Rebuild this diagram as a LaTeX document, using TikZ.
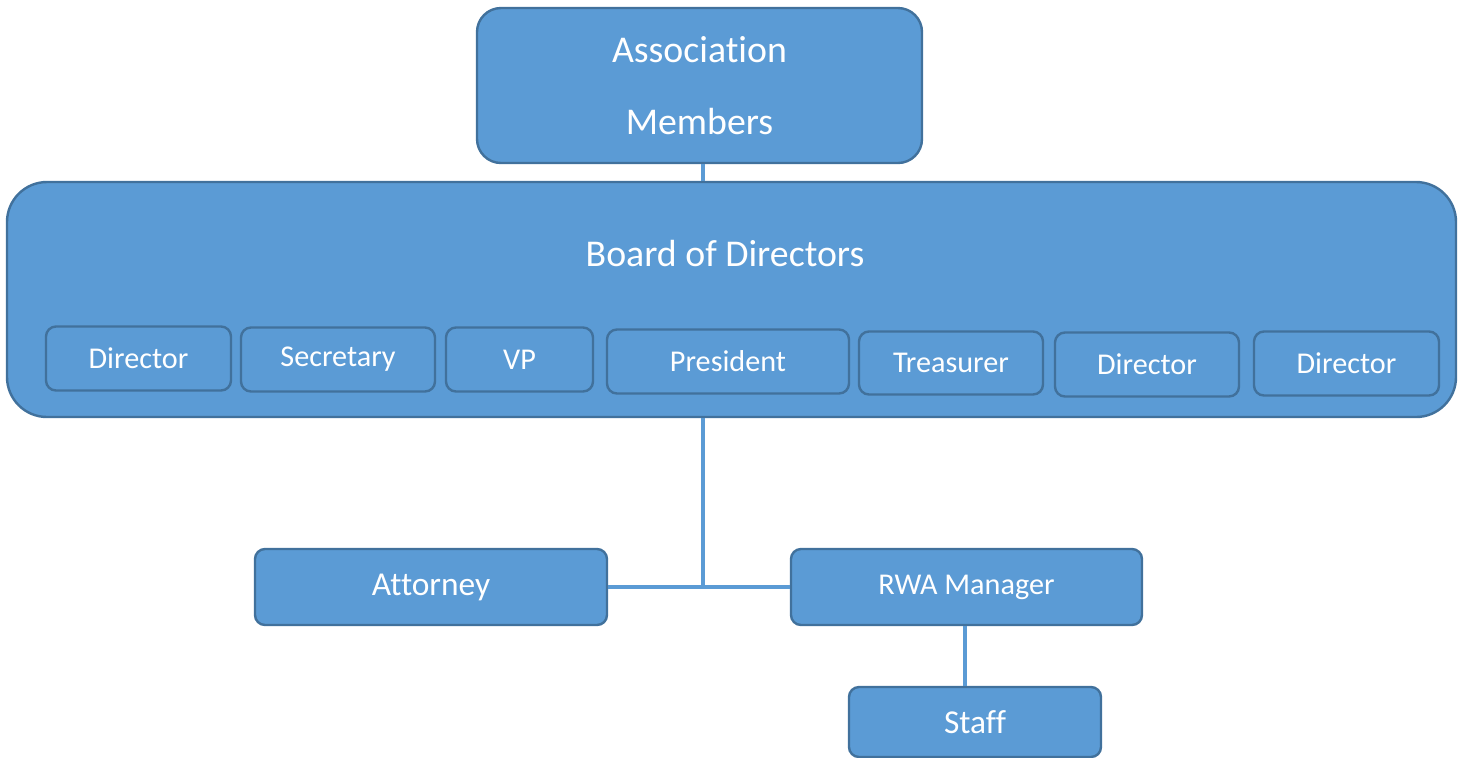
\documentclass[tikz,border=0pt]{standalone}
\usepackage{fontspec}
\setmainfont{Carlito}[Ligatures=NoCommon]
\definecolor{boxfill}{HTML}{5B9BD5}
\definecolor{boxline}{HTML}{41719C}
\begin{document}
\begin{tikzpicture}[x=0.5pt,y=-0.5pt,
  box/.style={draw=boxline,line width=1.2pt,fill=boxfill,text=white,rounded corners=#1,inner sep=0pt,anchor=center},
  box/.default=5pt,
  conn/.style={draw=boxfill,line width=2pt},
  big/.style={font=\fontsize{18.9}{36}\selectfont},
  mid/.style={font=\fontsize{16.7}{20}\selectfont},
  small/.style={font=\fontsize{15.1}{18}\selectfont}]
\useasboundingbox (0,0) rectangle (1466,757);
\node[box=12pt,big,minimum width=222.5pt,minimum height=77.5pt,align=center] (assoc) at (699.5,85.5) {Association\\Members};
\node[box=20pt,minimum width=724.5pt,minimum height=117.5pt] (board) at (731.5,299.5) {};
\node[big,text=white,inner sep=0pt] (boardlbl) at (725,254) {Board of Directors};
\node[box,small,minimum width=92.5pt,minimum height=32pt] (d1) at (138.5,358.5) {Director};
\node[box,small,minimum width=97pt,minimum height=32pt] (sec) at (338,359.5) {Secretary};
\node[box,small,minimum width=73.5pt,minimum height=32pt] (vp) at (519.5,359.5) {VP};
\node[box,small,minimum width=121pt,minimum height=32pt] (pres) at (728,361.5) {President};
\node[box,small,minimum width=92pt,minimum height=31.5pt] (treas) at (951,363) {Treasurer};
\node[box,small,minimum width=92pt,minimum height=32pt] (d2) at (1147,364.5) {Director};
\node[box,small,minimum width=92.5pt,minimum height=32pt] (d3) at (1346.5,363.5) {Director};
\node[box,mid,minimum width=176pt,minimum height=38pt] (att) at (431,587) {Attorney};
\node[box,small,minimum width=175.5pt,minimum height=38pt] (rwa) at (966.5,587) {RWA Manager};
\node[box,mid,minimum width=126pt,minimum height=35pt] (staff) at (975,722) {Staff};
\coordinate (j) at (703,587);
\coordinate (k) at (965,0);
\draw[conn] (assoc.south -| j) -- (board.north -| j);
\draw[conn] (board.south -| j) -- (j);
\draw[conn] (att.east) -- (rwa.west);
\draw[conn] (rwa.south -| k) -- (staff.north -| k);
\end{tikzpicture}
\end{document}
